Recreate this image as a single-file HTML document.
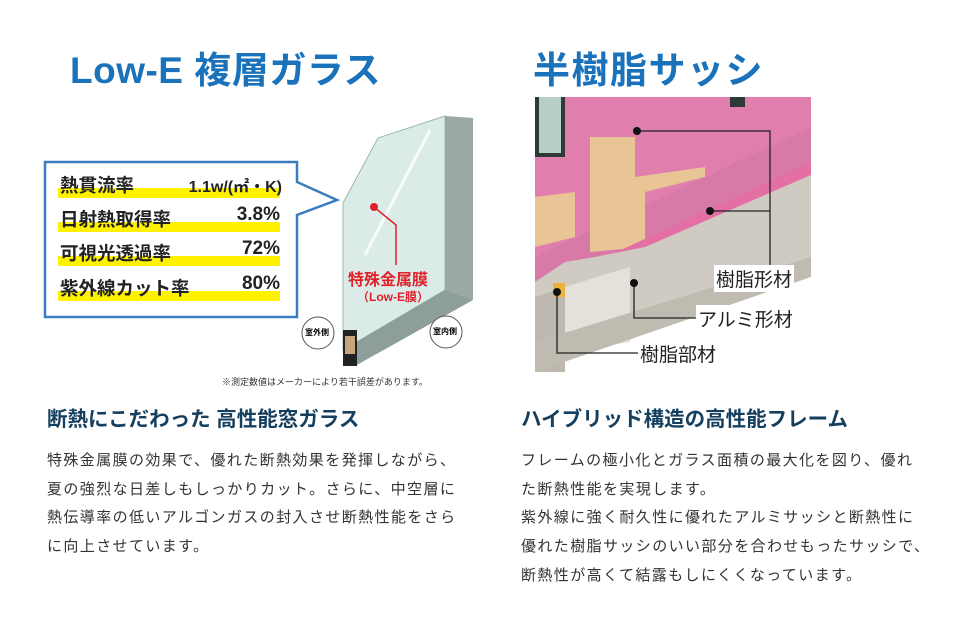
<!DOCTYPE html>
<html><head><meta charset="utf-8"><style>
body{margin:0;width:960px;height:640px;background:#fff;position:relative;overflow:hidden;font-family:"Liberation Sans","Noto Sans CJK JP",sans-serif}
.a{position:absolute;white-space:nowrap}
.t{font-size:37px;font-weight:bold;color:#1a72bb;letter-spacing:0.5px}
.h{font-size:20.5px;font-weight:bold;color:#143f5e}
.b{font-size:15px;color:#333;line-height:28.7px;letter-spacing:1.4px}
.r{font-size:18.5px;font-weight:bold;color:#222;}
.v{font-size:19px;font-weight:bold;color:#222;text-align:right;width:110px}
.y{position:absolute;height:10px;background:#fff200;left:58px;width:222px}
.lab{font-size:19px;color:#222;background:#fff;padding:0 2px}
</style></head><body>
<div class="a t" style="left:70px;top:40px">Low-E 複層ガラス</div>
<div class="a t" style="left:533px;top:40px;letter-spacing:1.5px">半樹脂サッシ</div>

<svg class="a" style="left:0;top:0" width="960" height="400">
 <path d="M45 162 H297 V182 L337 200 L297 215 V317 H45 Z" fill="#fff" stroke="#3a7cc0" stroke-width="2.5"/>
 <polygon points="343,203 378,138 445,116 473,118 473,300 352,366 343,362" fill="#cfe3dd"/>
 <polygon points="343,203 378,138 445,116 445,290 343,350" fill="#dbece8" stroke="#9bb7b0"/>
 <polygon points="445,116 473,118 473,300 445,290" fill="#9aa9a6"/>
 <polygon points="343,350 445,290 473,300 355,366" fill="#8e9e9a"/>
 <rect x="343" y="330" width="14" height="36" fill="#222"/>
 <rect x="345" y="336" width="10" height="18" fill="#c8a57a"/>
 <line x1="365" y1="255" x2="430" y2="130" stroke="#fff" stroke-width="3" opacity=".8"/>
 <circle cx="374" cy="207" r="4" fill="#e0202a"/>
 <polyline points="374,207 396,225 396,265" fill="none" stroke="#e0202a" stroke-width="1.5"/>
 <circle cx="318" cy="333" r="16" fill="#fff" stroke="#555"/>
 <circle cx="446" cy="332" r="16" fill="#fff" stroke="#555"/>
</svg>
<div class="y" style="top:188px"></div>
<div class="y" style="top:222px"></div>
<div class="y" style="top:256px"></div>
<div class="y" style="top:291px"></div>
<div class="a r" style="left:60px;top:172px">熱貫流率</div>
<div class="a r" style="left:60px;top:206px">日射熱取得率</div>
<div class="a r" style="left:60px;top:240px">可視光透過率</div>
<div class="a r" style="left:60px;top:275px">紫外線カット率</div>
<div class="a v" style="left:170px;top:173px;width:112px;font-size:16px">1.1w/(㎡・K)</div>
<div class="a v" style="left:170px;top:204px">3.8%</div>
<div class="a v" style="left:170px;top:238px">72%</div>
<div class="a v" style="left:170px;top:273px">80%</div>
<div class="a" style="left:348px;top:266px;font-size:16px;font-weight:bold;color:#e0202a">特殊金属膜</div>
<div class="a" style="left:357px;top:288px;font-size:12px;font-weight:bold;color:#e0202a">（Low-E膜）</div>
<div class="a" style="left:305px;top:327px;font-size:8px;font-weight:bold">室外側</div>
<div class="a" style="left:433px;top:326px;font-size:8px;font-weight:bold">室内側</div>
<div class="a" style="left:222px;top:375px;font-size:9px;color:#333">※測定数値はメーカーにより若干誤差があります。</div>

<svg class="a" style="left:535px;top:97px" width="276" height="275">
 <rect width="276" height="275" fill="#fff"/>
 <polygon points="0,0 276,0 276,70 0,210" fill="#e07fae"/>
 <rect x="0" y="0" width="30" height="60" fill="#2d3a36"/>
 <rect x="4" y="0" width="22" height="56" fill="#b8cfc6"/>
 <rect x="195" y="0" width="15" height="10" fill="#2d3a36"/>
 <polygon points="0,160 276,30 276,80 0,210" fill="#d87aa8"/>
 <polygon points="55,40 100,40 100,80 170,70 170,80 110,95 110,150 55,155" fill="#e9c494"/>
 <polygon points="0,100 40,95 40,140 0,150" fill="#e9c494"/>
 <polygon points="60,165 276,65 276,78 80,175" fill="#e36fa5"/>
 <polygon points="30,165 60,160 110,150 276,78 276,160 90,245 60,250 0,258 0,185" fill="#cfcbc2"/>
 <polygon points="0,200 30,190 30,275 0,275" fill="#bdb9af"/>
 <polygon points="30,190 95,170 95,245 30,255" fill="#e4e1da"/>
 <polygon points="0,245 276,160 276,180 0,275" fill="#c0bbb1"/>
 <rect x="18" y="186" width="12" height="14" fill="#e8b340"/>
 <polygon points="200,275 276,245 276,275" fill="#fff"/>
</svg>
<svg class="a" style="left:0;top:0" width="960" height="400">
 <g stroke="#222" stroke-width="1.3" fill="none">
  <polyline points="637,131 770,131 770,280"/>
  <polyline points="710,211 770,211"/>
  <polyline points="634,283 634,318 700,318"/>
  <polyline points="557,292 557,353 640,353"/>
 </g>
 <g fill="#111"><circle cx="637" cy="131" r="4"/><circle cx="710" cy="211" r="4"/><circle cx="634" cy="283" r="4"/><circle cx="557" cy="292" r="4"/></g>
</svg>
<div class="a lab" style="left:714px;top:265px">樹脂形材</div>
<div class="a lab" style="left:696px;top:305px">アルミ形材</div>
<div class="a lab" style="left:638px;top:340px">樹脂部材</div>

<div class="a h" style="left:47px;top:402px">断熱にこだわった 高性能窓ガラス</div>
<div class="a h" style="left:521px;top:402px">ハイブリッド構造の高性能フレーム</div>
<div class="a b" style="left:47px;top:447px">特殊金属膜の効果で、優れた断熱効果を発揮しながら、<br>夏の強烈な日差しもしっかりカット。さらに、中空層に<br>熱伝導率の低いアルゴンガスの封入させ断熱性能をさら<br>に向上させています。</div>
<div class="a b" style="left:521px;top:447px">フレームの極小化とガラス面積の最大化を図り、優れ<br>た断熱性能を実現します。<br>紫外線に強く耐久性に優れたアルミサッシと断熱性に<br>優れた樹脂サッシのいい部分を合わせもったサッシで、<br>断熱性が高くて結露もしにくくなっています。</div>
</body></html>
